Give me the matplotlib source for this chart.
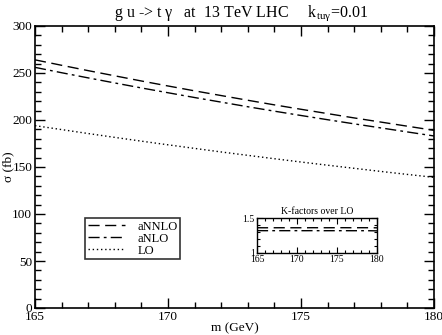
import matplotlib
matplotlib.use("Agg")
import matplotlib.pyplot as plt
from matplotlib.ticker import MultipleLocator
import numpy as np

plt.rcParams['font.family'] = ['Liberation Serif', 'DejaVu Serif']
plt.rcParams['mathtext.fontset'] = 'custom'
plt.rcParams['mathtext.rm'] = 'Liberation Serif'

mass = [165, 166, 167, 168, 169, 170, 171, 172, 173, 174, 175, 176, 177, 178, 179, 180]
annlo = [264, 258.2, 252.5, 247, 241.5, 236.2, 231, 226, 221, 216.1, 211.4, 206.8, 202.2, 197.8, 193.4, 189]
anlo = [256, 250.3, 244.8, 239.4, 234.1, 229, 223.9, 219, 214.1, 209.4, 204.8, 200.3, 195.9, 191.6, 187.3, 183]
lo = [194, 189.8, 185.6, 181.5, 177.5, 173.6, 169.8, 166, 162.4, 158.8, 155.3, 151.9, 148.6, 145.3, 142.1, 139]
series_labels = ["aNNLO", "aNLO", "LO"]
x_ticks = [165, 170, 175, 180]
y_ticks = [0, 50, 100, 150, 200, 250, 300]

fig = plt.figure(figsize=(4.42, 3.35), dpi=100)
ax = fig.add_axes([35/442, 1-308/335, (434-35)/442, (308-26)/335])

dash = (0, (8, 4))
dashdot = (0, (8, 3, 2, 3))
dot = (0, (1, 2))
ax.plot(mass, annlo, color='black', lw=1, linestyle=dash, label=series_labels[0])
ax.plot(mass, anlo, color='black', lw=1, linestyle=dashdot, label=series_labels[1])
ax.plot(mass, lo, color='black', lw=1, linestyle=dot, label=series_labels[2])

ax.set_xlim(165, 180)
ax.set_ylim(0, 300)
ax.set_xticks(x_ticks)
ax.set_yticks(y_ticks)
ax.xaxis.set_minor_locator(MultipleLocator(1))
ax.yaxis.set_minor_locator(MultipleLocator(10))
ax.tick_params(which='both', direction='in', top=True, right=True, labelsize=9.5, width=1, pad=2)
ax.tick_params(which='major', length=7)
ax.tick_params(which='minor', length=4)
for s in ax.spines.values():
    s.set_linewidth(1.2)
ax.set_xlabel("m (GeV)", fontsize=9.5, labelpad=0)
ax.set_ylabel("σ (fb)", fontsize=9.5)
ax.yaxis.set_label_coords(-21/399, 0.5)

fig.text(241/442, 1-13/335, "g u -> t γ   at  13 TeV LHC     k$_{\\mathregular{tuγ}}$=0.01",
         ha='center', va='center', fontsize=11.5)

leg = ax.legend(loc='upper left', bbox_to_anchor=(85/442, 1-218/335),
                bbox_transform=fig.transFigure, fontsize=9, frameon=True, fancybox=False,
                handlelength=3.0, handletextpad=1.0, borderpad=0.2, labelspacing=0.0,
                borderaxespad=0)
leg.get_frame().set_edgecolor('black')
leg.get_frame().set_linewidth(1.2)

# inset
ins = fig.add_axes([257/442, 1-253/335, 120/442, 35/335])
k_annlo = np.array(annlo) / np.array(lo)
k_anlo = np.array(anlo) / np.array(lo)
ins.plot(mass, k_annlo, color='black', lw=1, linestyle=dash)
ins.plot(mass, k_anlo, color='black', lw=1, linestyle=dashdot)
ins.set_xlim(165, 180)
ins.set_ylim(1, 1.5)
ins.set_xticks(x_ticks)
ins.set_yticks([1, 1.5])
ins.set_yticklabels(["1", "1.5"])
ins.xaxis.set_minor_locator(MultipleLocator(1))
ins.yaxis.set_minor_locator(MultipleLocator(0.1))
ins.tick_params(which='both', direction='in', top=True, right=True, labelsize=7, width=0.8, pad=1.5)
ins.tick_params(which='major', length=4)
ins.tick_params(which='minor', length=2.5)
for s in ins.spines.values():
    s.set_linewidth(1)
ins.set_title("K-factors over LO", fontsize=7, pad=3)

fig.savefig("out.png", dpi=100)
